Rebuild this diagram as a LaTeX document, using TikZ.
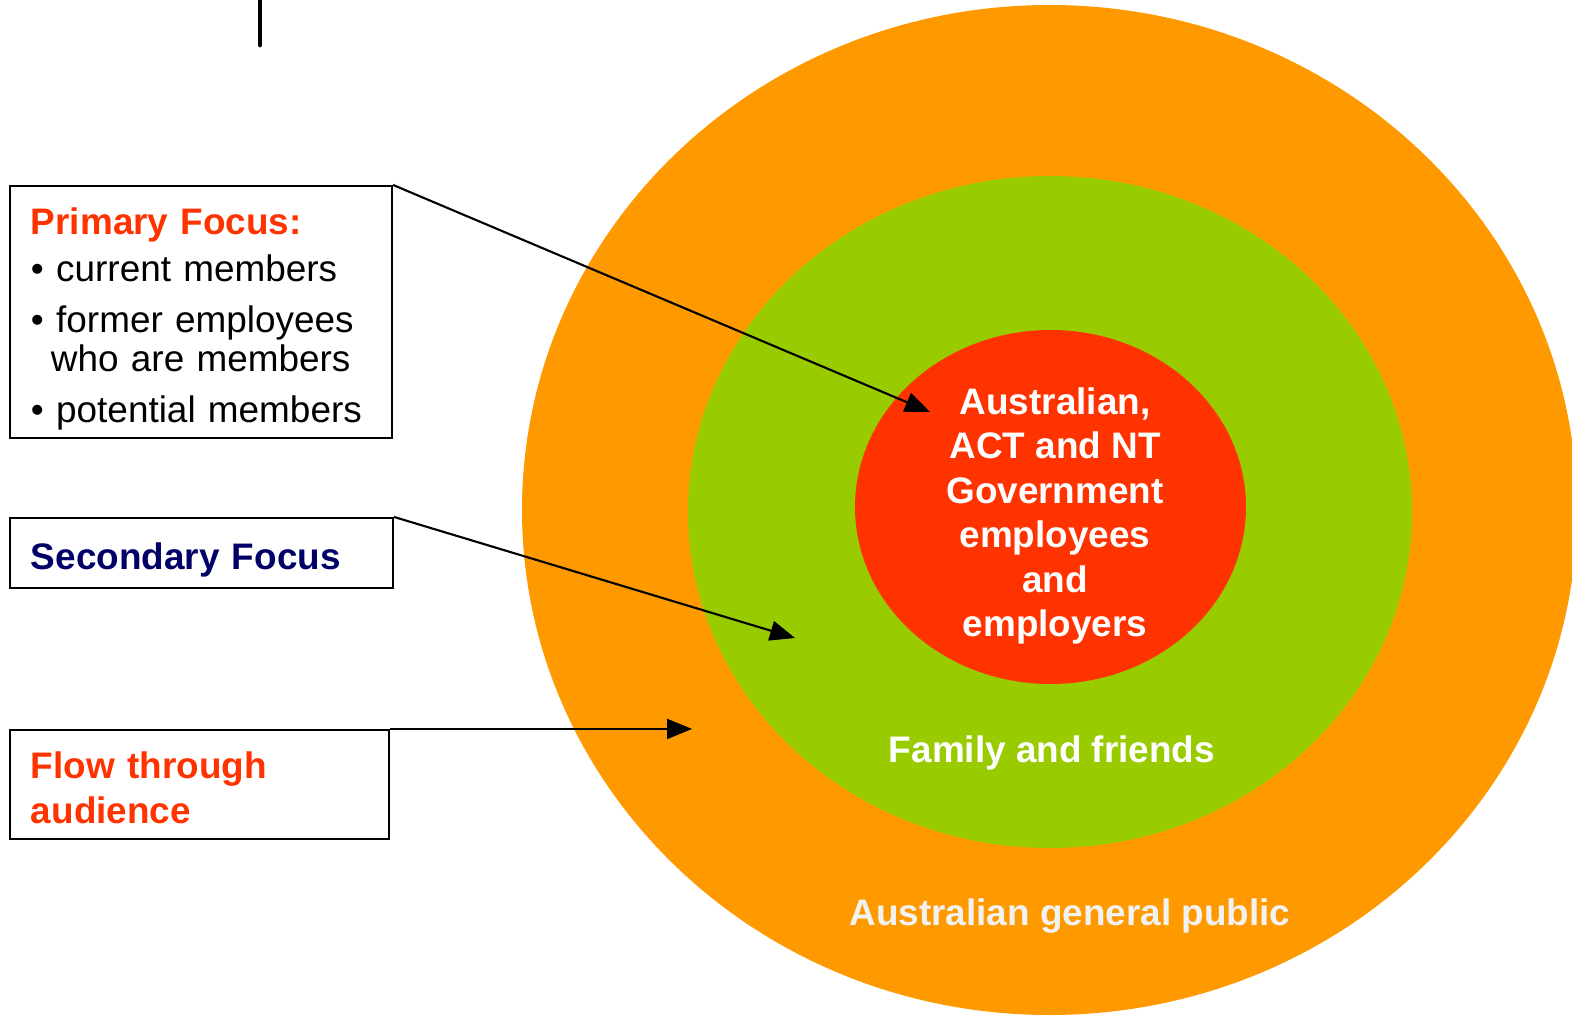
\documentclass[tikz,border=0pt]{standalone}
\usepackage{fontspec}
\setmainfont{Liberation Sans}
\usetikzlibrary{arrows.meta,shapes.geometric}
\definecolor{Public}{HTML}{FF9900}
\definecolor{Family}{HTML}{99CC00}
\definecolor{Core}{HTML}{FF3300}
\definecolor{Navy}{HTML}{000066}
\definecolor{Pale}{HTML}{F2F2F2}

\begin{document}
\begin{tikzpicture}[
    font=\fontsize{10.5}{11.1}\selectfont,
    ring/.style={ellipse, inner sep=0pt},
    box/.style={draw, line width=0.6pt, inner xsep=0.21cm, inner ysep=0pt, align=left},
    lbl/.style={text=white, font=\fontsize{10.5}{12.66}\selectfont\bfseries, align=center},
    pointer/.style={-{Triangle[length=0.25cm,width=0.2cm]}, line width=0.6pt}]
    \useasboundingbox (0,0) rectangle (15.72,10.15);

    \begin{scope}
      \clip (0,0) rectangle (15.72,10.15);
      \node at (10.495, 5.05) (public) [ring, fill=Public, minimum width=10.55cm, minimum height=10.10cm] {};
      \draw[line width=1.4pt, line cap=round] (2.60,10.30) -- (2.60,9.70);
    \end{scope}
    \node at (10.50, 5.03) (family) [ring, fill=Family, minimum width=7.24cm, minimum height=6.72cm] {};
    \node at (10.505, 5.08) (core) [ring, fill=Core, minimum width=3.91cm, minimum height=3.54cm] {};

    \node at (10.55, 4.99) (coretext) [lbl] {Australian,\\ACT and NT\\Government\\employees\\and\\employers};
    \node at (10.52, 2.53) (familytext) [lbl, anchor=base] {Family and friends};
    \node at (10.70, 0.90) (publictext) [lbl, anchor=base, text=Pale] {Australian general public};

    \node at (2.01, 7.03) (primary) [box, text width=3.40cm, minimum height=2.52cm] {%
      \rule{0pt}{11.7pt}{\color{Core}\bfseries Primary Focus:}\\[0.08cm]
      \textbullet\ current members\\[0.12cm]
      \textbullet\ former employees\\
      \hspace*{0.20cm}who are members\\[0.12cm]
      \textbullet\ potential members};
    \node at (2.015, 4.62) (secondary) [box, text width=3.41cm, minimum height=0.70cm] {%
      \rule{0pt}{11.7pt}{\color{Navy}\bfseries Secondary Focus}};
    \node at (1.995, 2.305) (flow) [box, text width=3.37cm, minimum height=1.09cm] {%
      \rule{0pt}{9.4pt}{\color{Core}\bfseries Flow through\\[0.06cm]audience}};

    \coordinate (coretip) at (9.30, 6.03);
    \coordinate (familytip) at (7.95, 3.77);
    \path (flow.north east) ++(3.02,0) coordinate (publictip);

    \draw[pointer] (primary.north east) -- (coretip);
    \draw[pointer] (secondary.north east) -- (familytip);
    \draw[pointer] (flow.north east) -- (publictip);
  \end{tikzpicture}
\end{document}
